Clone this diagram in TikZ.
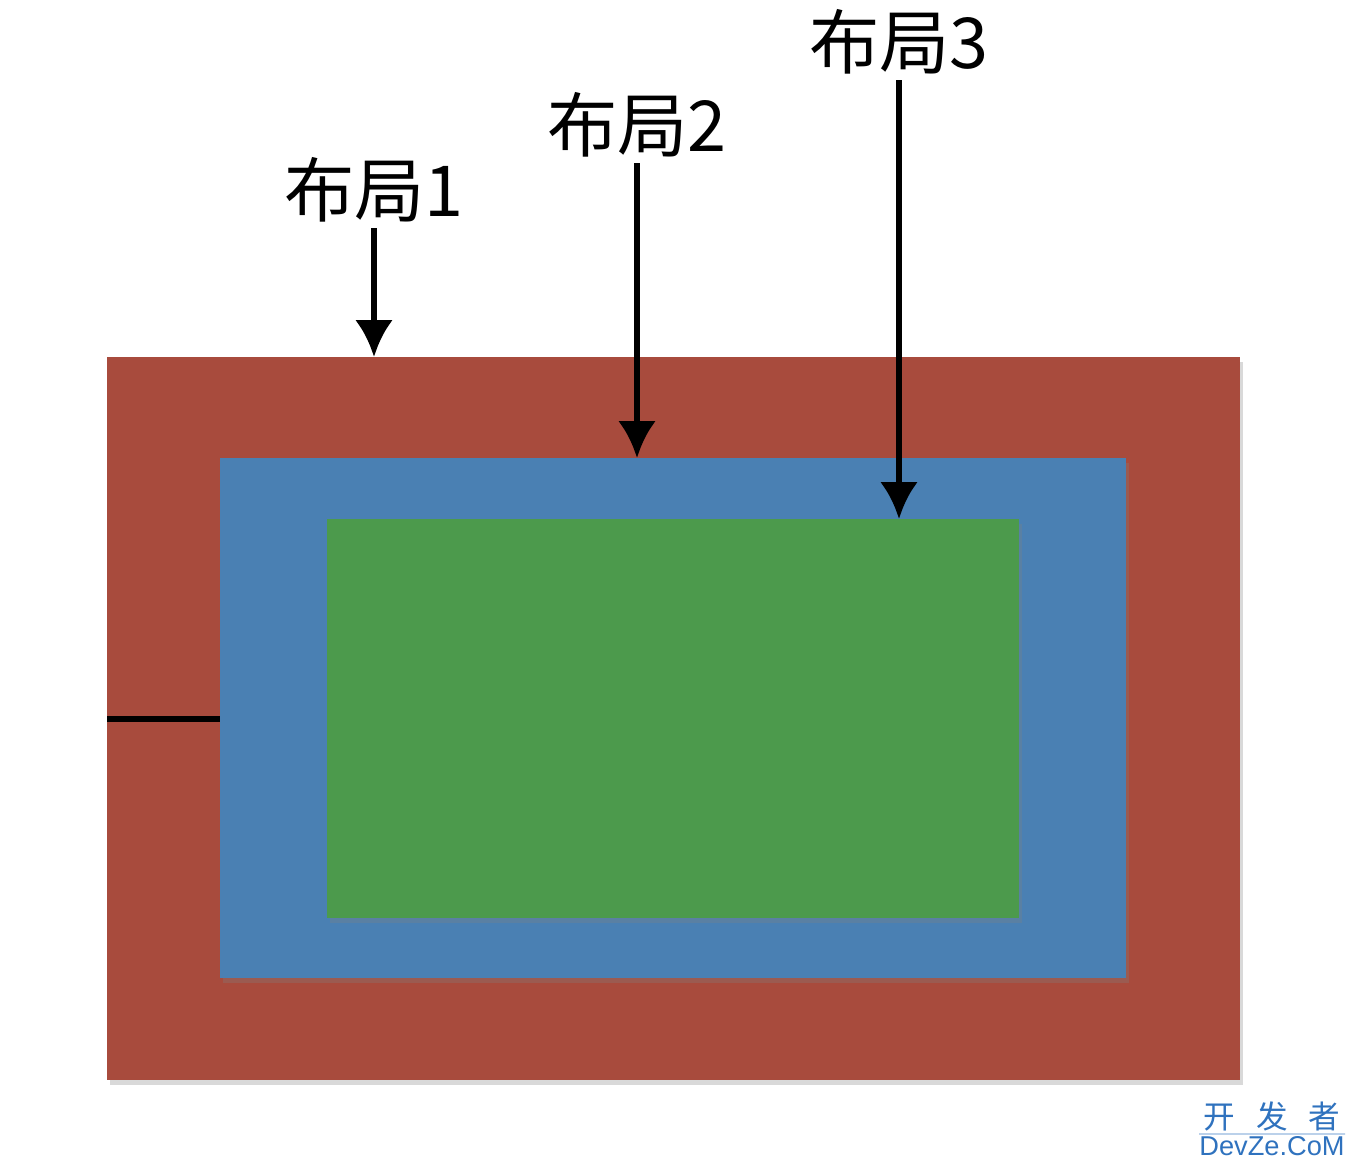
\documentclass[tikz,border=0pt]{standalone}
\usepackage{fontspec}
\setmainfont{Noto Sans CJK SC}
\newfontfamily\wmfont{Liberation Sans}
\usepackage{tikz}
\usetikzlibrary{arrows.meta, positioning, shadows}
\usepackage{xcolor}
\definecolor{outerred}{HTML}{A84B3D}
\definecolor{midblue}{HTML}{4A80B3}
\definecolor{innergreen}{HTML}{4C9A4C}
\definecolor{wmblue}{HTML}{2F72BE}

\begin{document}
\begin{tikzpicture}[
x=0.02cm, y=-0.02cm,
panel/.style={rectangle, inner sep=0pt, anchor=north west, drop shadow={opacity=0.3, shadow xshift=1.5pt, shadow yshift=-2.5pt}},
tag/.style={font=\fontsize{40}{48}\selectfont, inner sep=3pt},
arrow/.style={-{Latex[length=0.74cm, width=0.76cm]}, line width=0.13cm}
]
    \useasboundingbox (0,0) rectangle (1356,1168);

    \node[panel, fill=outerred, minimum width=22.66cm, minimum height=14.46cm] (red) at (107,357) {};
    \node[panel, fill=midblue, minimum width=18.12cm, minimum height=10.4cm] (blue) at (220,458) {};
    \node[panel, fill=innergreen, minimum width=13.84cm, minimum height=7.98cm] (green) at (327,519) {};

    \node[tag] (lab1) at (374,190) {布局1};
    \node[tag] (lab2) at (637,125) {布局2};
    \node[tag] (lab3) at (899,42) {布局3};

    \draw[arrow] (lab1.south) -- (lab1.south |- red.north);
    \draw[arrow] (lab2.south) -- (lab2.south |- blue.north);
    \draw[arrow] (lab3.south) -- (lab3.south |- green.north);

    \draw[line width=0.12cm] (red.west) -- (red.west -| blue.west);

    % watermark
    \node[text=wmblue, font=\fontsize{18}{21}\selectfont, inner sep=0pt] (wm1) at (1272,1116) {开\hspace{0.42cm}发\hspace{0.42cm}者};
    \node[text=wmblue, font=\wmfont\fontsize{15.5}{18}\selectfont, inner sep=0pt] (wm2) at (1272,1146) {DevZe.CoM};
    \draw[wmblue!50, line width=0.6pt] (wm2.north west) ++(0,-2) -- ([yshift=0.04cm]wm2.north east);

\end{tikzpicture}
\end{document}
